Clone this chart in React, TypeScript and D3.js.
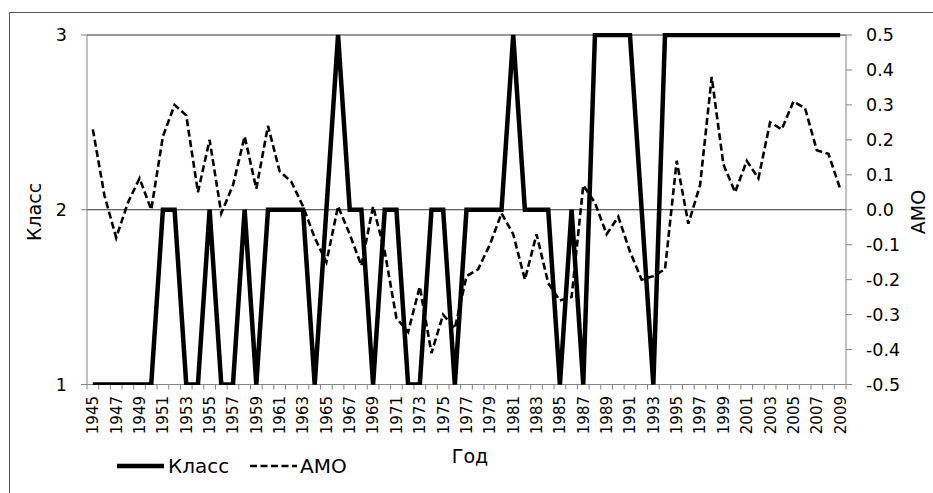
import React from "react";
import * as d3 from "d3";

const years = [
  1945, 1946, 1947, 1948, 1949, 1950, 1951, 1952, 1953, 1954, 1955, 1956, 1957,
  1958, 1959, 1960, 1961, 1962, 1963, 1964, 1965, 1966, 1967, 1968, 1969, 1970,
  1971, 1972, 1973, 1974, 1975, 1976, 1977, 1978, 1979, 1980, 1981, 1982, 1983,
  1984, 1985, 1986, 1987, 1988, 1989, 1990, 1991, 1992, 1993, 1994, 1995, 1996,
  1997, 1998, 1999, 2000, 2001, 2002, 2003, 2004, 2005, 2006, 2007, 2008, 2009,
];

const classValues = [
  1, 1, 1, 1, 1, 1, 2, 2, 1, 1, 2, 1, 1,
  2, 1, 2, 2, 2, 2, 1, 2, 3, 2, 2, 1, 2,
  2, 1, 1, 2, 2, 1, 2, 2, 2, 2, 3, 2, 2,
  2, 1, 2, 1, 3, 3, 3, 3, 2, 1, 3, 3, 3,
  3, 3, 3, 3, 3, 3, 3, 3, 3, 3, 3, 3, 3,
];

const amoValues = [
  0.23, 0.04, -0.08, 0.02, 0.09, 0.0, 0.21, 0.3, 0.27, 0.05, 0.2, -0.01, 0.07,
  0.21, 0.06, 0.24, 0.11, 0.08, 0.01, -0.08, -0.15, 0.01, -0.07, -0.16, 0.01, -0.12,
  -0.31, -0.35, -0.22, -0.41, -0.3, -0.34, -0.19, -0.17, -0.1, -0.01, -0.07, -0.2, -0.07,
  -0.21, -0.26, -0.25, 0.07, 0.02, -0.07, -0.02, -0.12, -0.2, -0.19, -0.17, 0.14, -0.04,
  0.07, 0.38, 0.13, 0.05, 0.14, 0.09, 0.25, 0.23, 0.31, 0.29, 0.17, 0.16, 0.06,
];

const leftTicks = [1, 2, 3];
const rightTicks = [0.5, 0.4, 0.3, 0.2, 0.1, 0.0, -0.1, -0.2, -0.3, -0.4, -0.5];
const xLabelYears = years.filter((_, i) => i % 2 === 0);

const W = 933;
const H = 493;
const L = 87;
const R = 846;
const T = 35;
const B = 384.5;
const FONT = "'DejaVu Sans', sans-serif";

export default function App() {
  const x = d3.scaleBand<number>().domain(years).range([L, R]).padding(0);
  const bw = x.bandwidth();
  const cx = (yr: number) => (x(yr) as number) + bw / 2;
  const yL = d3.scaleLinear().domain([1, 3]).range([B, T]);
  const yR = d3.scaleLinear().domain([-0.5, 0.5]).range([B, T]);

  const classLine = d3
    .line<number>()
    .x((_, i) => cx(years[i]))
    .y((d) => yL(d))(classValues) as string;
  const amoLine = d3
    .line<number>()
    .x((_, i) => cx(years[i]))
    .y((d) => yR(d))(amoValues) as string;

  const boundaries = years.map((yr) => x(yr) as number).concat([R]);

  return (
    <svg
      width={W}
      height={H}
      style={{ position: "absolute", left: 0, top: 0, background: "#fff" }}
      fontFamily={FONT}
    >
      <rect x={0} y={0} width={W} height={H} fill="#fff" />
      {/* outer frame */}
      <line x1={9.5} y1={12.5} x2={W} y2={12.5} stroke="#555" strokeWidth={1} />
      <line x1={9.5} y1={12.5} x2={9.5} y2={H} stroke="#555" strokeWidth={1} />

      <defs>
        <clipPath id="plotClip">
          <rect x={L - 2} y={T - 2} width={R - L + 4} height={B - T + 2.5} />
        </clipPath>
      </defs>

      {/* gridlines */}
      {leftTicks
        .filter((t) => t !== 1)
        .map((t) => (
          <line key={"g" + t} x1={L} x2={R} y1={yL(t)} y2={yL(t)} stroke="#333" strokeWidth={1} />
        ))}

      {/* left axis */}
      <line x1={L} x2={L} y1={T} y2={B} stroke="#868686" strokeWidth={1} />
      {leftTicks.map((t) => (
        <g key={"lt" + t}>
          <line x1={L - 6} x2={L} y1={yL(t)} y2={yL(t)} stroke="#868686" strokeWidth={1} />
          <text x={67} y={yL(t)} dy="0.36em" textAnchor="end" fontSize={17.5} fill="#000">
            {t}
          </text>
        </g>
      ))}

      {/* right axis */}
      <line x1={R} x2={R} y1={T} y2={B} stroke="#868686" strokeWidth={1} />
      {rightTicks.map((t) => (
        <g key={"rt" + t}>
          <line x1={R} x2={R + 6} y1={yR(t)} y2={yR(t)} stroke="#868686" strokeWidth={1} />
          <text x={866} y={yR(t)} dy="0.36em" textAnchor="start" fontSize={17.5} fill="#000">
            {d3.format(".1f")(t).replace("−", "-")}
          </text>
        </g>
      ))}

      {/* bottom axis */}
      <line x1={L} x2={R} y1={B} y2={B} stroke="#868686" strokeWidth={1} />
      {boundaries.map((b, i) => (
        <line key={"bt" + i} x1={b} x2={b} y1={B} y2={B + 5} stroke="#868686" strokeWidth={1} />
      ))}
      {xLabelYears.map((yr) => (
        <text
          key={"xl" + yr}
          transform={`translate(${cx(yr)},${396}) rotate(-90)`}
          textAnchor="end"
          dy="0.36em"
          fontSize={15}
          fill="#000"
        >
          {yr}
        </text>
      ))}

      {/* series */}
      <g clipPath="url(#plotClip)">
        <path d={amoLine} fill="none" stroke="#000" strokeWidth={2.6} strokeDasharray="7,3.5" />
        <path d={classLine} fill="none" stroke="#000" strokeWidth={4.5} strokeLinejoin="miter" />
      </g>

      {/* axis titles */}
      <text transform={`translate(41,212) rotate(-90)`} textAnchor="middle" fontSize={19} fill="#000">
        Класс
      </text>
      <text transform={`translate(912,212) rotate(-90)`} textAnchor="middle" fontSize={19} dy="0.7em" fill="#000">
        АМО
      </text>
      <text x={470} y={463} textAnchor="middle" fontSize={19} fill="#000">
        Год
      </text>

      {/* legend */}
      <line x1={117} x2={164} y1={466} y2={466} stroke="#000" strokeWidth={4.5} />
      <text x={168} y={473} fontSize={20} fill="#000">
        Класс
      </text>
      <line x1={250} x2={297} y1={466} y2={466} stroke="#000" strokeWidth={2.6} strokeDasharray="7,3.5" />
      <text x={300} y={473} fontSize={20} fill="#000">
        АМО
      </text>
    </svg>
  );
}
